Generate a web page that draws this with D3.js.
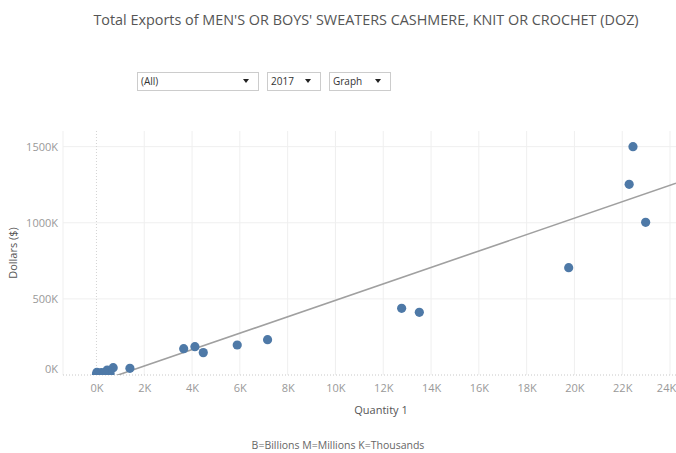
<!DOCTYPE html>
<html>
<head>
<meta charset="utf-8">
<script src="https://cdn.jsdelivr.net/npm/d3@7"></script>
<style>
  body { margin: 0; background: #fff; }
  text { font-family: "Open Sans", "DejaVu Sans", sans-serif; }
</style>
</head>
<body>
<div id="chart"></div>
<script>
// values
const quantity = [22450, 22290, 22980, 19760, 12770, 13510, 7160, 5890, 4470, 4120, 3650, 1400, 700, 450, 570, 20, 0, 200, 330];
const dollars  = [1500000, 1253000, 1003000, 705000, 438000, 412000, 232000, 197000, 147000, 186000, 173000, 44000, 48000, 33000, 11000, 18000, 5000, 15000, 14000];
const xTicks = [0, 2000, 4000, 6000, 8000, 10000, 12000, 14000, 16000, 18000, 20000, 22000, 24000];
const yTicks = [0, 500000, 1000000, 1500000];
const trend = [53.96, -48780]; // slope, intercept
const filters = ["(All)", "2017", "Graph"];

const width = 676, height = 453;
const plot = { left: 63, right: 676, top: 131, bottom: 375 };

const svg = d3.select("#chart").append("svg")
    .attr("width", width)
    .attr("height", height);

const x = d3.scaleLinear().domain([-1400, 24250]).range([plot.left, plot.right]);
const y = d3.scaleLinear().domain([0, 1603000]).range([plot.bottom, plot.top]);

// title
svg.append("text")
    .attr("x", 366).attr("y", 25)
    .attr("text-anchor", "middle")
    .style("font-size", "14.4px")
    .style("fill", "#555")
    .text("Total Exports of MEN'S OR BOYS' SWEATERS CASHMERE, KNIT OR CROCHET (DOZ)");

// filter boxes
const boxW = [121, 53, 61];
const boxX = [137, 267, 329];
const fg = svg.append("g");
filters.forEach((f, i) => {
    const g = fg.append("g").attr("transform", `translate(${boxX[i]},72)`);
    g.append("rect")
        .attr("x", 0.5).attr("y", 0.5)
        .attr("width", boxW[i]).attr("height", 18)
        .style("fill", "#fff")
        .style("stroke", "#ccc");
    g.append("text")
        .attr("x", 4).attr("y", 13)
        .style("font-size", "10px")
        .style("fill", "#333")
        .text(f);
    const ax = boxW[i] - 12;
    g.append("path")
        .attr("d", `M${ax - 3},7 L${ax + 3},7 L${ax},11 Z`)
        .style("fill", "#222");
});

// gridlines
const grid = svg.append("g");
grid.selectAll(".vg")
    .data(xTicks.filter(d => d !== 0))
    .enter().append("line")
    .attr("x1", d => x(d)).attr("x2", d => x(d))
    .attr("y1", plot.top).attr("y2", plot.bottom)
    .style("stroke", "#efefef");
grid.append("line")
    .attr("x1", plot.left).attr("x2", plot.left)
    .attr("y1", plot.top).attr("y2", plot.bottom)
    .style("stroke", "#efefef");
grid.selectAll(".hg")
    .data(yTicks.filter(d => d !== 0))
    .enter().append("line")
    .attr("x1", plot.left).attr("x2", plot.right)
    .attr("y1", d => y(d)).attr("y2", d => y(d))
    .style("stroke", "#efefef");
// zero lines
grid.append("line")
    .attr("x1", x(0)).attr("x2", x(0))
    .attr("y1", plot.top).attr("y2", plot.bottom)
    .style("stroke", "#d4d4d4")
    .style("stroke-dasharray", "1,2");
grid.append("line")
    .attr("x1", plot.left).attr("x2", plot.right)
    .attr("y1", y(0)).attr("y2", y(0))
    .style("stroke", "#c8c8c8")
    .style("stroke-dasharray", "1,2");

// axes
const xAxis = svg.append("g")
    .attr("transform", `translate(0,${plot.bottom})`)
    .call(d3.axisBottom(x).tickValues(xTicks).tickSize(0).tickPadding(9)
        .tickFormat(d => (d / 1000) + "K"));
xAxis.select(".domain").remove();
xAxis.selectAll("text")
    .style("font-size", "11px")
    .style("fill", "#999")
    .style("font-family", "'Open Sans', sans-serif")
    .attr("x", d => d === 24000 ? -4 : 0);

const yAxis = svg.append("g")
    .attr("transform", `translate(${plot.left},0)`)
    .call(d3.axisLeft(y).tickValues(yTicks).tickSize(0).tickPadding(5)
        .tickFormat(d => (d / 1000) + "K"));
yAxis.select(".domain").remove();
yAxis.selectAll("text")
    .style("font-size", "11px")
    .style("fill", "#999")
    .style("font-family", "'Open Sans', sans-serif")
    .attr("y", d => d === 0 ? -6 : 0);

// axis titles
svg.append("text")
    .attr("transform", "translate(17,253) rotate(-90)")
    .attr("text-anchor", "middle")
    .style("font-size", "11px")
    .style("fill", "#555")
    .text("Dollars ($)");
svg.append("text")
    .attr("x", 381).attr("y", 414)
    .attr("text-anchor", "middle")
    .style("font-size", "11px")
    .style("fill", "#555")
    .text("Quantity 1");

// clip
svg.append("clipPath").attr("id", "clip")
    .append("rect")
    .attr("x", plot.left).attr("y", plot.top)
    .attr("width", plot.right - plot.left)
    .attr("height", plot.bottom - plot.top);

const marks = svg.append("g").attr("clip-path", "url(#clip)");

// trend line
const tx = x.domain();
marks.append("line")
    .attr("x1", x(tx[0])).attr("y1", y(trend[0] * tx[0] + trend[1]))
    .attr("x2", x(tx[1])).attr("y2", y(trend[0] * tx[1] + trend[1]))
    .style("stroke", "#a0a0a0")
    .style("stroke-width", 1.6);

// points
marks.selectAll(".dot")
    .data(quantity.map((q, i) => ({ q: q, d: dollars[i] })))
    .enter().append("circle")
    .attr("class", "dot")
    .attr("cx", d => x(d.q))
    .attr("cy", d => y(d.d))
    .attr("r", 4.6)
    .style("fill", "#4e79a7");

// footer
svg.append("text")
    .attr("x", 338).attr("y", 449)
    .attr("text-anchor", "middle")
    .style("font-size", "10.5px")
    .style("fill", "#666")
    .text("B=Billions M=Millions K=Thousands");
</script>
</body>
</html>
